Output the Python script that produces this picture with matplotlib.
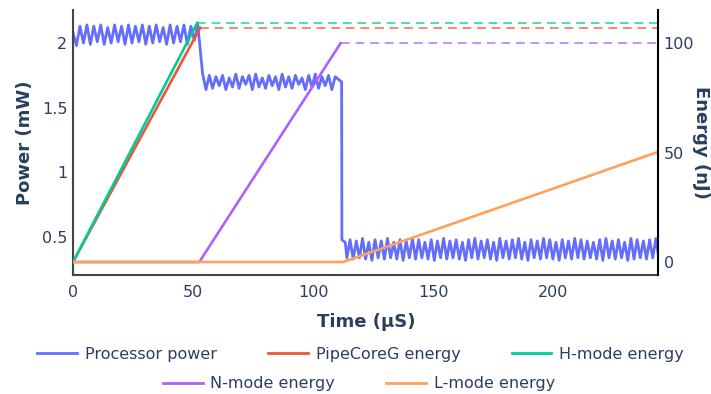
import matplotlib.pyplot as plt
from matplotlib.lines import Line2D

power_a_start, power_a_step = 0.0, 1.444
power_a = [2.08, 1.98, 2.13, 2.00, 2.14, 1.99, 2.13, 2.01, 2.14, 1.99, 2.12, 2.00,
           2.14, 2.01, 2.13, 1.99, 2.14, 2.00, 2.13, 2.01, 2.14, 1.99, 2.13, 2.00,
           2.14, 2.01, 2.12, 1.99, 2.14, 2.00, 2.13, 2.01, 2.14, 1.99, 2.13, 2.02, 2.14]

power_b_start, power_b_step = 54.0, 1.38
power_b = [1.76, 1.64, 1.75, 1.65, 1.74, 1.67, 1.75, 1.64, 1.73, 1.66, 1.76, 1.65,
           1.74, 1.68, 1.75, 1.64, 1.76, 1.66, 1.73, 1.65, 1.75, 1.67, 1.74, 1.64,
           1.76, 1.66, 1.74, 1.65, 1.75, 1.68, 1.73, 1.64, 1.75, 1.66, 1.76, 1.65,
           1.74, 1.67, 1.75, 1.64, 1.74, 1.72]

# caida a los 112 uS
power_drop_t = [111.9, 112.0, 112.6, 113.4]
power_drop = [1.70, 0.48, 0.47, 0.46]

# tramo final
power_c_start, power_c_step = 114.1, 1.3
power_c = [0.34, 0.48, 0.33, 0.47, 0.34, 0.49, 0.33, 0.46, 0.32, 0.48, 0.34, 0.47,
           0.33, 0.49, 0.34, 0.46, 0.33, 0.48, 0.32, 0.47, 0.34, 0.49, 0.33, 0.48,
           0.34, 0.46, 0.33, 0.48, 0.32, 0.47, 0.34, 0.49, 0.33, 0.47, 0.34, 0.48,
           0.33, 0.46, 0.32, 0.48, 0.34, 0.49, 0.33, 0.47, 0.34, 0.48, 0.33, 0.46,
           0.32, 0.49, 0.34, 0.47, 0.33, 0.48, 0.34, 0.49, 0.33, 0.46, 0.32, 0.48,
           0.34, 0.47, 0.33, 0.49, 0.34, 0.48, 0.33, 0.46, 0.32, 0.48, 0.34, 0.47,
           0.33, 0.49, 0.34, 0.48, 0.33, 0.47, 0.34, 0.46, 0.33, 0.48, 0.32, 0.49,
           0.34, 0.47, 0.33, 0.48, 0.34, 0.46, 0.32, 0.49, 0.33, 0.48, 0.34, 0.47,
           0.33, 0.48, 0.34, 0.49, 0.33]

# Energias (nJ)
t_end = 243.7
pipecore_t = [0, 53.0]
pipecore_e = [0, 107.0]
hmode_t = [0, 51.8]
hmode_e = [0, 109.3]
nmode_t = [0, 52.6, 111.5]
nmode_e = [0, 0, 100.0]
lmode_t = [0, 112.5, t_end]
lmode_e = [0, 0, 50.3]

C_POWER = '#636EFA'
C_PIPE = '#EF553B'
C_H = '#00CC96'
C_N = '#AB63FA'
C_L = '#FFA15A'
TXT = '#2a3f5f'


def main():
    plt.rcParams['font.family'] = 'DejaVu Sans'

    power_t = [power_a_start + power_a_step * i for i in range(len(power_a))]
    power_t += [power_b_start + power_b_step * i for i in range(len(power_b))]
    power_t += power_drop_t
    power_t += [power_c_start + power_c_step * i for i in range(len(power_c))]
    power = power_a + power_b + power_drop + power_c

    fig = plt.figure(figsize=(7.11, 3.94), dpi=100)
    ax = fig.add_axes([0.1027, 0.302, 0.8228, 0.6725])
    ax2 = ax.twinx()

    ax.plot(power_t, power, color=C_POWER, lw=2.0, solid_joinstyle='round')

    ax2.plot(pipecore_t, pipecore_e, color=C_PIPE, lw=1.9)
    ax2.plot(hmode_t, hmode_e, color=C_H, lw=1.9)
    ax2.plot(nmode_t, nmode_e, color=C_N, lw=1.9)
    ax2.plot(lmode_t, lmode_e, color=C_L, lw=1.9)

    # lineas discontinuas con la energia final
    for tt, ee, c in [(pipecore_t, pipecore_e, C_PIPE), (hmode_t, hmode_e, C_H),
                      (nmode_t, nmode_e, C_N)]:
        ax2.plot([tt[-1], t_end], [ee[-1], ee[-1]], color=c, lw=1.4, alpha=0.7,
                 dashes=(4.5, 3))

    ax.set_xlim(0, t_end)
    ax.set_ylim(0.207, 2.255)
    ax2.set_ylim(-5.94, 115.1)

    ax.set_xticks([0, 50, 100, 150, 200])
    ax.set_yticks([0.5, 1, 1.5, 2])
    ax.set_yticklabels(['0.5', '1', '1.5', '2'])
    ax2.set_yticks([0, 50, 100])

    for a in (ax, ax2):
        a.tick_params(length=0, labelsize=11.5, labelcolor=TXT)
        a.spines['top'].set_visible(False)
    ax.tick_params(axis='x', pad=7)
    ax.tick_params(axis='y', pad=4)
    ax2.tick_params(axis='y', pad=4)
    for s in ('left', 'bottom'):
        ax.spines[s].set_color('#444444')
        ax.spines[s].set_linewidth(1.5)
    ax.spines['right'].set_visible(False)
    ax2.spines['left'].set_visible(False)
    ax2.spines['bottom'].set_visible(False)
    ax2.spines['right'].set_color('black')
    ax2.spines['right'].set_linewidth(1.5)

    fig.text(0.035, 0.6385, 'Power (mW)', rotation=90, ha='center', va='center',
             fontsize=13, fontweight='bold', color=TXT)
    fig.text(0.986, 0.6385, 'Energy (nJ)', rotation=-90, ha='center', va='center',
             fontsize=13, fontweight='bold', color=TXT)
    fig.text(0.5145, 0.183, 'Time (µS)', ha='center', va='center',
             fontsize=13, fontweight='bold', color=TXT)

    # Leyenda en dos filas centradas
    fila1 = [Line2D([], [], color=C_POWER, lw=2), Line2D([], [], color=C_PIPE, lw=2),
             Line2D([], [], color=C_H, lw=2)]
    fila2 = [Line2D([], [], color=C_N, lw=2), Line2D([], [], color=C_L, lw=2)]
    kw = dict(frameon=False, fontsize=11.5, handlelength=2.5, handletextpad=0.5,
              columnspacing=3.2, labelcolor=TXT, borderaxespad=0, borderpad=0)
    fig.legend(fila1, ['Processor power', 'PipeCoreG energy', 'H-mode energy'],
               ncol=3, loc='center', bbox_to_anchor=(0.507, 0.1015), **kw)
    fig.legend(fila2, ['N-mode energy', 'L-mode energy'],
               ncol=2, loc='center', bbox_to_anchor=(0.505, 0.0254), **kw)

    fig.savefig('out.png', dpi=100)


if __name__ == "__main__":
    main()
